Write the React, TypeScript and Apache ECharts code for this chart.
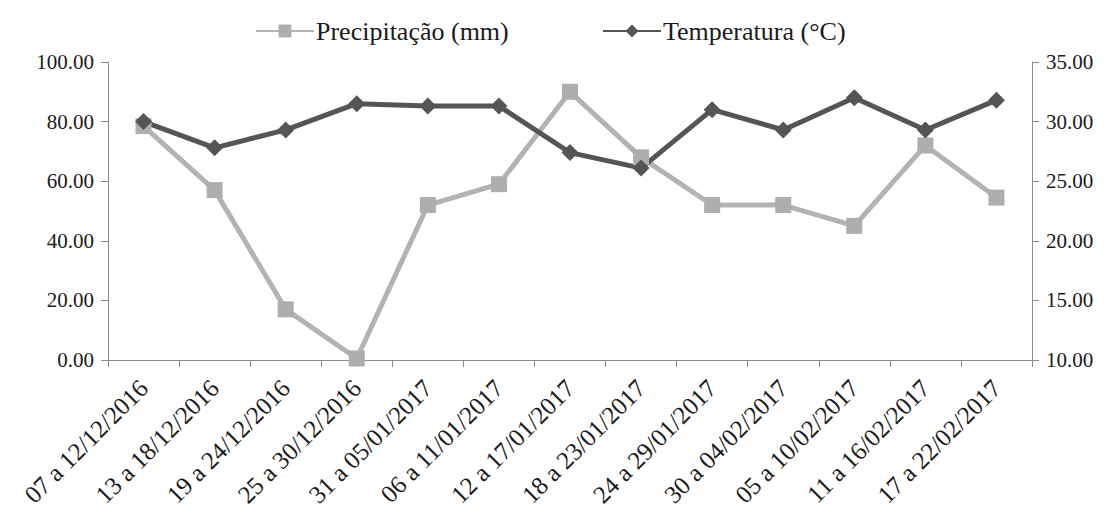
import React, { useEffect, useRef } from "react";
import * as echarts from "echarts";

const categories = [
  "07 a 12/12/2016",
  "13 a 18/12/2016",
  "19 a 24/12/2016",
  "25 a 30/12/2016",
  "31 a 05/01/2017",
  "06 a 11/01/2017",
  "12 a 17/01/2017",
  "18 a 23/01/2017",
  "24 a 29/01/2017",
  "30 a 04/02/2017",
  "05 a 10/02/2017",
  "11 a 16/02/2017",
  "17 a 22/02/2017",
];
const precipitacao = [78.5, 57, 17, 0.5, 52, 59, 90, 68, 52, 52, 45, 72, 54.5];
const temperatura = [30.0, 27.8, 29.3, 31.5, 31.3, 31.3, 27.4, 26.1, 31.0, 29.3, 32.0, 29.3, 31.8];

const FONT = "'Liberation Serif', 'Times New Roman', serif";

export default function App() {
  const ref = useRef<HTMLDivElement>(null);
  useEffect(() => {
    const chart = echarts.init(ref.current!, null, { renderer: "svg" });
    const legendText = { fontFamily: FONT, fontSize: 26, color: "#1a1a1a", padding: [0, 0, 0, -3] };
    chart.setOption({
      animation: false,
      backgroundColor: "#ffffff",
      textStyle: { fontFamily: FONT },
      legend: [
        {
          top: 13,
          left: 250,
          itemWidth: 58,
          itemHeight: 16,
          textStyle: legendText,
          data: ["Precipitação (mm)"],
        },
        {
          top: 13,
          left: 597,
          itemWidth: 58,
          itemHeight: 16,
          textStyle: legendText,
          data: ["Temperatura (°C)"],
        },
      ],
      grid: { left: 108, right: 88, top: 62, bottom: 158 },
      xAxis: {
        type: "category",
        data: categories,
        boundaryGap: true,
        axisLine: { lineStyle: { color: "#8c8c8c", width: 1 } },
        axisTick: { show: true, alignWithLabel: false, length: 7, lineStyle: { color: "#8c8c8c" } },
        axisLabel: {
          rotate: 45,
          interval: 0,
          fontFamily: FONT,
          fontSize: 25,
          color: "#1a1a1a",
          margin: 24,
        },
      },
      yAxis: [
        {
          type: "value",
          min: 0,
          max: 100,
          interval: 20,
          splitLine: { show: false },
          axisLine: { show: true, lineStyle: { color: "#8c8c8c" } },
          axisTick: { show: true, length: 7, lineStyle: { color: "#8c8c8c" } },
          axisLabel: {
            formatter: (v: number) => v.toFixed(2),
            fontFamily: FONT,
            fontSize: 21,
            color: "#1a1a1a",
            margin: 14,
          },
        },
        {
          type: "value",
          min: 10,
          max: 35,
          interval: 5,
          position: "right",
          splitLine: { show: false },
          axisLine: { show: true, lineStyle: { color: "#8c8c8c" } },
          axisTick: { show: true, length: 7, lineStyle: { color: "#8c8c8c" } },
          axisLabel: {
            formatter: (v: number) => v.toFixed(2),
            fontFamily: FONT,
            fontSize: 21,
            color: "#1a1a1a",
            margin: 14,
          },
        },
      ],
      series: [
        {
          name: "Precipitação (mm)",
          type: "line",
          yAxisIndex: 0,
          data: precipitacao,
          symbol: "rect",
          symbolSize: 16,
          itemStyle: { color: "#aeaeae" },
          lineStyle: { color: "#b3b3b3", width: 5 },
        },
        {
          name: "Temperatura (°C)",
          type: "line",
          yAxisIndex: 1,
          data: temperatura,
          symbol: "diamond",
          symbolSize: 17,
          itemStyle: { color: "#555555" },
          lineStyle: { color: "#555555", width: 5 },
        },
      ],
    });
    return () => chart.dispose();
  }, []);
  return <div ref={ref} style={{ width: 1120, height: 518, margin: -8 }} />;
}
